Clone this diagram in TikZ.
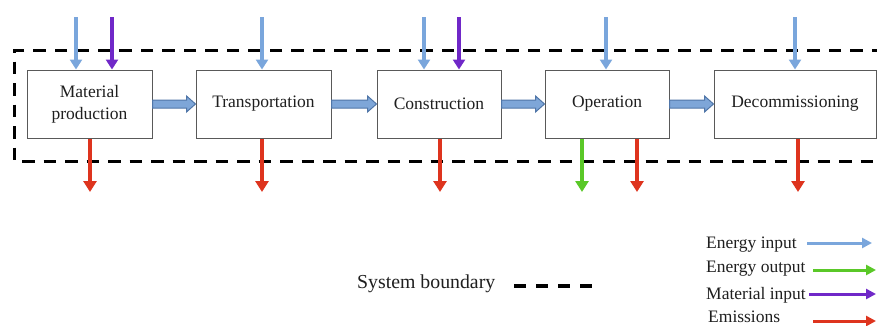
\documentclass[tikz,border=0pt]{standalone}
\usepackage{fontspec}
\setmainfont{Liberation Serif}
\usetikzlibrary{arrows.meta,calc}
\definecolor{einc}{RGB}{122,166,220}
\definecolor{eoutc}{RGB}{90,200,40}
\definecolor{minc}{RGB}{112,40,200}
\definecolor{emc}{RGB}{222,52,30}
\definecolor{flowfill}{RGB}{126,166,216}
\definecolor{flowline}{RGB}{80,118,168}
\newcommand\flowarrow[2]{%
  \draw[flowarr] ($(#1.east)+(0,4)$) -- ($(#2.west)+(-9,4)$) -- ($(#2.west)+(-9,8)$) -- (#2.west)
    -- ($(#2.west)+(-9,-8)$) -- ($(#2.west)+(-9,-4)$) -- ($(#1.east)+(0,-4)$) -- cycle;}
\begin{document}
\begin{tikzpicture}[x=1pt,y=-1pt,
  stagebox/.style={draw=black!65, line width=1pt, fill=white, minimum height=68pt,
    inner sep=0pt, font=\fontsize{17.5}{22}\selectfont, text=black!88, align=center},
  vin/.style={line width=3.5pt, -{Triangle[width=12pt,length=10pt]}},
  vout/.style={line width=4pt, -{Triangle[width=13pt,length=11pt]}},
  legarr/.style={line width=3pt, -{Triangle[width=10pt,length=10pt]}},
  flowarr/.style={draw=flowline, fill=flowfill, line width=1pt, line join=miter},
  boundary/.style={draw=black, line width=3pt, dash pattern=on 12.5pt off 9pt},
  legtext/.style={font=\fontsize{17.5}{21}\selectfont, text=black!88, inner sep=0pt, anchor=west}]
\useasboundingbox (0,0) rectangle (877,325);
\fill[white] (0,0) rectangle (877,325);
% system boundary
\draw[boundary] (884,50) -- (14,50) -- (14,161) -- (884,161);
% stages
\node[stagebox, minimum width=125pt] (mp) at (89.5,104) {Material\\production};
\node[stagebox, minimum width=135pt] (tr) at (263.5,104) {Transportation};
\node[stagebox, minimum width=124pt] (co) at (439,104) {Construction};
\node[stagebox, minimum width=124pt] (op) at (607,104) {Operation};
\node[stagebox, minimum width=162pt] (de) at (795,104) {Decommissioning};
% flow arrows
\flowarrow{mp}{tr}
\flowarrow{tr}{co}
\flowarrow{co}{op}
\flowarrow{op}{de}
% top inputs
\coordinate (t1) at (76,17);
\coordinate (t2) at (112,17);
\coordinate (t3) at (262,17);
\coordinate (t4) at (424,17);
\coordinate (t5) at (459,17);
\coordinate (t6) at (606,17);
\coordinate (t7) at (795,17);
\draw[vin, einc] (t1) -- (t1 |- mp.north);
\draw[vin, minc] (t2) -- (t2 |- mp.north);
\draw[vin, einc] (t3) -- (t3 |- tr.north);
\draw[vin, einc] (t4) -- (t4 |- co.north);
\draw[vin, minc] (t5) -- (t5 |- co.north);
\draw[vin, einc] (t6) -- (t6 |- op.north);
\draw[vin, einc] (t7) -- (t7 |- de.north);
% bottom outputs
\coordinate (b1) at (90,192);
\coordinate (b2) at (262,192);
\coordinate (b3) at (440,192);
\coordinate (b4) at (582,192);
\coordinate (b5) at (637,192);
\coordinate (b6) at (798,192);
\draw[vout, emc] (b1 |- mp.south) -- (b1);
\draw[vout, emc] (b2 |- tr.south) -- (b2);
\draw[vout, emc] (b3 |- co.south) -- (b3);
\draw[vout, eoutc] (b4 |- op.south) -- (b4);
\draw[vout, emc] (b5 |- op.south) -- (b5);
\draw[vout, emc] (b6 |- de.south) -- (b6);
% legend
\node[legtext, font=\fontsize{19.8}{23}\selectfont] (lsb) at (357,284) {System boundary};
\coordinate (lsb1) at (514,286);
\coordinate (lsb2) at (593,286);
\draw[black, line width=3.5pt, dash pattern=on 12pt off 10pt] (lsb1) -- (lsb2);
\node[legtext] (l1) at (706,245) {Energy input};
\node[legtext] (l2) at (706,269) {Energy output};
\node[legtext] (l3) at (706,295) {Material input};
\node[legtext] (l4) at (708,317) {Emissions};
\coordinate (a1s) at (807,243); \coordinate (a1e) at (872,243);
\coordinate (a2s) at (813,270); \coordinate (a2e) at (876,270);
\coordinate (a3s) at (809,294); \coordinate (a3e) at (876,294);
\coordinate (a4s) at (813,321); \coordinate (a4e) at (876,321);
\draw[legarr, einc] (a1s) -- (a1e);
\draw[legarr, eoutc] (a2s) -- (a2e);
\draw[legarr, minc] (a3s) -- (a3e);
\draw[legarr, emc] (a4s) -- (a4e);
\end{tikzpicture}
\end{document}
